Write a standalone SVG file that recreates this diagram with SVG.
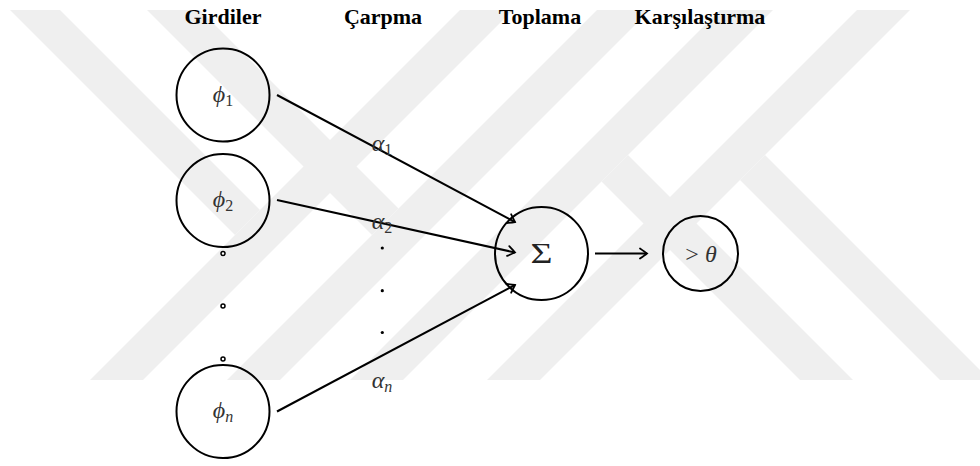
<svg xmlns="http://www.w3.org/2000/svg" width="980" height="466" viewBox="0 0 980 466">
<style>
.title{font-family:"Liberation Serif","Times New Roman",serif;font-weight:bold;font-size:22px;fill:#000;text-anchor:middle}
.node{fill:none;stroke:#000;stroke-width:2}
.math{font-family:"Liberation Serif","DejaVu Serif",serif;font-style:italic;font-size:24px;fill:#333;text-anchor:middle}
.sub{font-size:16px}
.up{font-style:normal}
.edge{stroke:#000;stroke-width:2;fill:none;marker-end:url(#arr)}
.ring{fill:#fff;stroke:#000;stroke-width:1.5}
.dot{fill:#000}
.wm{fill:#efefef}
</style>
<defs>
<marker id="arr" markerUnits="userSpaceOnUse" viewBox="-10 -7 12 14" refX="0" refY="0" markerWidth="12" markerHeight="14" orient="auto">
<path d="M-7,-5 Q-2,-1.5 0,0 Q-2,1.5 -7,5" fill="none" stroke="#000" stroke-width="1.8" stroke-linecap="round"/>
</marker>
</defs>
<g id="watermark">
<polygon class="wm" points="90,380 143,380 513,10 460,10"/>
<polygon class="wm" points="227,380 280,380 650,10 597,10"/>
<polygon class="wm" points="10,10 60,10 260,210 235,235"/>
<polygon class="wm" points="147,10 200,10 398.5,208.5 372,235"/>
<polygon class="wm" points="350,380 403,380 773,10 720,10"/>
<polygon class="wm" points="487,380 540,380 910,10 857,10"/>
<polygon class="wm" points="853,380 800,380 601.5,181.5 628,155"/>
<polygon class="wm" points="990,380 940,380 740,180 765,155"/>
</g>
<g id="titles">
<text class="title" x="223" y="24">Girdiler</text>
<text class="title" x="383" y="24">Çarpma</text>
<text class="title" x="540" y="24">Toplama</text>
<text class="title" x="700" y="24">Karşılaştırma</text>
</g>
<g id="phi1"><circle class="node" cx="223" cy="95" r="46.5"/><text class="math" x="223" y="102">ϕ<tspan class="sub up" dy="4">1</tspan></text></g>
<g id="phi2"><circle class="node" cx="223" cy="200.5" r="46.5"/><text class="math" x="223" y="207">ϕ<tspan class="sub up" dy="4">2</tspan></text></g>
<g id="phin"><circle class="node" cx="223" cy="411.5" r="46.5"/><text class="math" x="223" y="418">ϕ<tspan class="sub" dy="4">n</tspan></text></g>
<g id="input-dots">
<circle class="ring" cx="223" cy="253.5" r="2"/>
<circle class="ring" cx="223" cy="306" r="2"/>
<circle class="ring" cx="223" cy="359" r="2"/>
</g>
<g id="sum"><circle class="node" cx="541.5" cy="253.5" r="46.5"/><text x="541.5" y="263" font-family="Liberation Serif,serif" font-size="29" fill="#222" text-anchor="middle" textLength="22" lengthAdjust="spacingAndGlyphs">Σ</text></g>
<g id="threshold"><circle class="node" cx="700.5" cy="253.5" r="37.5"/><text class="math" x="701" y="262"><tspan class="up">&gt;</tspan> θ</text></g>
<g id="connectors">
<path class="edge" d="M277,95 L515,222"/>
<path class="edge" d="M277,200 L515,252.5"/>
<path class="edge" d="M277,411.5 L515,285"/>
<path class="edge" d="M595,253.5 L647,253.5"/>
</g>
<g id="weights">
<text class="math" x="382" y="151">α<tspan class="sub up" dy="4">1</tspan></text>
<text class="math" x="382" y="229">α<tspan class="sub up" dy="4">2</tspan></text>
<text class="math" x="382" y="388">α<tspan class="sub" dy="4">n</tspan></text>
<circle class="dot" cx="382.3" cy="248" r="1.6"/>
<circle class="dot" cx="382.3" cy="290.7" r="1.6"/>
<circle class="dot" cx="382.3" cy="332.5" r="1.6"/>
</g>
</svg>
